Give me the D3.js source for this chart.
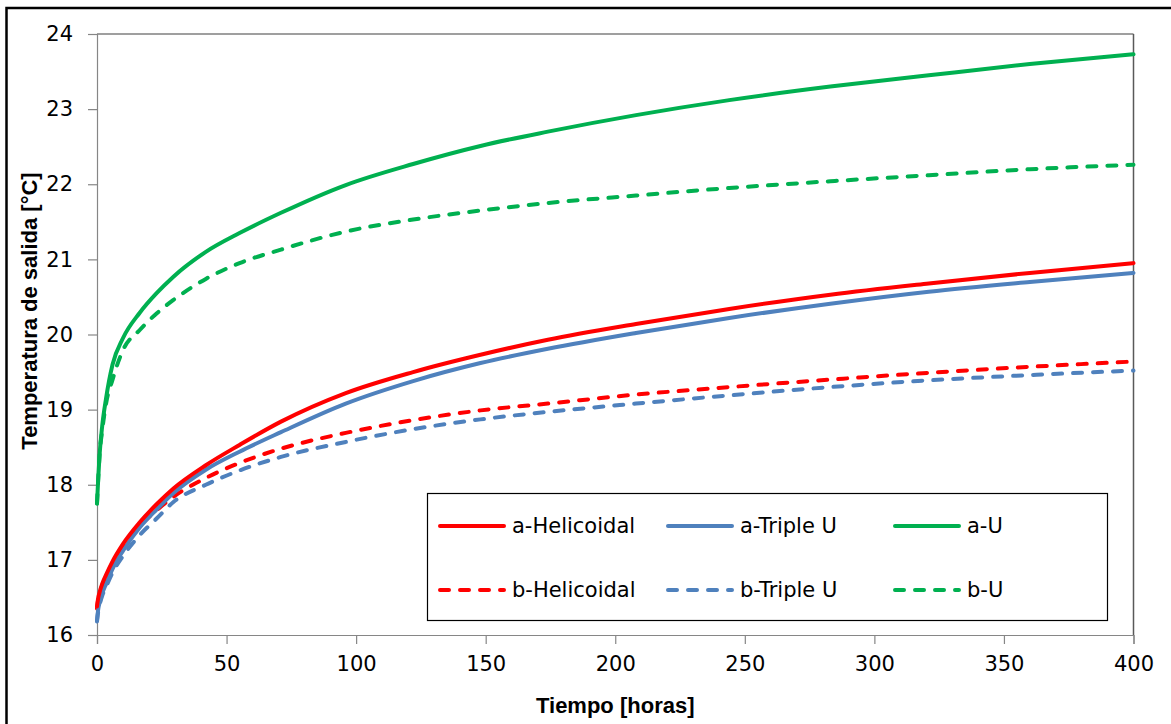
<!DOCTYPE html>
<html>
<head>
<meta charset="utf-8">
<script src="https://cdn.jsdelivr.net/npm/d3@7"></script>
<style>
  html, body { margin: 0; padding: 0; background: #fff; }
  svg { display: block; }
  text { fill: #000; }
</style>
</head>
<body>
<svg id="chart" width="1171" height="724"></svg>
<script>
// ---- data ----
const times = [0, 0.5, 1, 2, 3.5, 6, 10, 16.5, 23, 29.5, 42, 55, 71, 96, 122, 148, 174, 208, 244, 283, 321, 360, 400];
const aHelicoidal = [16.38, 16.50, 16.57, 16.68, 16.80, 16.98, 17.21, 17.50, 17.74, 17.95, 18.26, 18.53, 18.84, 19.22, 19.50, 19.73, 19.93, 20.14, 20.34, 20.53, 20.68, 20.82, 20.95];
const aTripleU   = [16.20, 16.35, 16.43, 16.55, 16.68, 16.88, 17.12, 17.43, 17.67, 17.89, 18.20, 18.44, 18.70, 19.08, 19.38, 19.62, 19.81, 20.02, 20.22, 20.41, 20.57, 20.70, 20.82];
const aU         = [17.75, 18.10, 18.40, 18.78, 19.15, 19.60, 19.95, 20.29, 20.55, 20.77, 21.10, 21.35, 21.62, 21.99, 22.27, 22.51, 22.70, 22.92, 23.12, 23.30, 23.45, 23.60, 23.73];
const bHelicoidal = [16.35, 16.48, 16.55, 16.66, 16.78, 16.96, 17.18, 17.45, 17.66, 17.84, 18.09, 18.29, 18.48, 18.69, 18.86, 18.99, 19.08, 19.20, 19.30, 19.40, 19.49, 19.57, 19.64];
const bTripleU   = [16.18, 16.32, 16.40, 16.52, 16.64, 16.83, 17.05, 17.33, 17.55, 17.77, 18.00, 18.19, 18.37, 18.57, 18.74, 18.87, 18.97, 19.08, 19.19, 19.30, 19.39, 19.46, 19.52];
const bU         = [17.75, 18.10, 18.40, 18.72, 19.08, 19.40, 19.79, 20.06, 20.28, 20.46, 20.74, 20.95, 21.13, 21.37, 21.53, 21.65, 21.75, 21.85, 21.95, 22.04, 22.12, 22.20, 22.26];

const xTicks = [0, 50, 100, 150, 200, 250, 300, 350, 400];
const yTicks = [16, 17, 18, 19, 20, 21, 22, 23, 24];
const xTitle = "Tiempo [horas]";
const yTitle = "Temperatura de salida [°C]";

const seriesNames = ["a-Helicoidal", "a-Triple U", "a-U", "b-Helicoidal", "b-Triple U", "b-U"];
const seriesValues = [aHelicoidal, aTripleU, aU, bHelicoidal, bTripleU, bU];
const seriesColors = ["#FF0000", "#4F81BD", "#00B050", "#FF0000", "#4F81BD", "#00B050"];
const seriesDashed = [false, false, false, true, true, true];

// ---- layout ----
const bodyFont = '"DejaVu Sans", "Liberation Sans", sans-serif';
const titleFont = '"Liberation Sans", Arial, sans-serif';
const svg = d3.select("#chart");
const L = 97, R = 1133.5, T = 34, B = 635;

const x = d3.scaleLinear().domain([0, 400]).range([L, R]);
const y = d3.scaleLinear().domain([16, 24]).range([B, T]);

// outer chart frame
svg.append("rect").attr("x", 6.5).attr("y", 8).attr("width", 1180).attr("height", 740)
  .attr("fill", "none").attr("stroke", "#000").attr("stroke-width", 2.5);

// plot-area frame (top/right)
svg.append("line").attr("x1", L).attr("x2", R).attr("y1", T).attr("y2", T).attr("stroke", "#404040").attr("stroke-width", 1.2);
svg.append("line").attr("x1", R).attr("x2", R).attr("y1", T).attr("y2", B).attr("stroke", "#595959").attr("stroke-width", 1.5);

// axes
const xAxis = d3.axisBottom(x).tickValues(xTicks).tickSize(9).tickPadding(12).tickFormat(d3.format("d"));
const yAxis = d3.axisLeft(y).tickValues(yTicks).tickSize(9).tickPadding(15).tickFormat(d3.format("d"));

const gx = svg.append("g").attr("transform", `translate(0,${B})`).call(xAxis);
const gy = svg.append("g").attr("transform", `translate(${L},0)`).call(yAxis);
[gx, gy].forEach(g => {
  g.select(".domain").attr("stroke", "#868686").attr("stroke-width", 1.2);
  g.selectAll(".tick line").attr("stroke", "#868686").attr("stroke-width", 1.2);
  g.selectAll(".tick text").attr("font-size", 21).attr("fill", "#000")
    .style("font-family", bodyFont);
});

// axis titles
svg.append("text").attr("x", (L + R) / 2).attr("y", 713).attr("text-anchor", "middle")
  .style("font-family", titleFont).attr("font-size", 22).attr("font-weight", "bold").text(xTitle);
svg.append("text").attr("transform", `translate(37,${311}) rotate(-90)`).attr("text-anchor", "middle")
  .style("font-family", titleFont).attr("font-size", 22).attr("font-weight", "bold").text(yTitle);

// lines
const line = d3.line().x(d => x(d[0])).y(d => y(d[1])).curve(d3.curveMonotoneX);
const order = [5, 4, 3, 2, 1, 0];
order.forEach(i => {
  const pts = times.map((t, k) => [t, seriesValues[i][k]]);
  svg.append("path").datum(pts).attr("d", line)
    .attr("fill", "none").attr("stroke", seriesColors[i]).attr("stroke-width", 4)
    .attr("stroke-linecap", "round").attr("stroke-linejoin", "round")
    .attr("stroke-dasharray", seriesDashed[i] ? "9,11" : null);
});

// legend
const lg = svg.append("g");
lg.append("rect").attr("x", 427.5).attr("y", 493.5).attr("width", 680).attr("height", 127)
  .attr("fill", "#fff").attr("stroke", "#000").attr("stroke-width", 1.2);
const colX = [440, 668, 895];
const rowY = [526, 590];
seriesNames.forEach((name, i) => {
  const cx = colX[i % 3], cy = rowY[Math.floor(i / 3)];
  lg.append("line").attr("x1", cx).attr("x2", cx + 64).attr("y1", cy).attr("y2", cy)
    .attr("stroke", seriesColors[i]).attr("stroke-width", 4).attr("stroke-linecap", "round")
    .attr("stroke-dasharray", seriesDashed[i] ? "9,11" : null);
  lg.append("text").attr("x", cx + 72).attr("y", cy).attr("dy", "0.35em")
    .style("font-family", bodyFont).attr("font-size", 21).text(name);
});
</script>
</body>
</html>
